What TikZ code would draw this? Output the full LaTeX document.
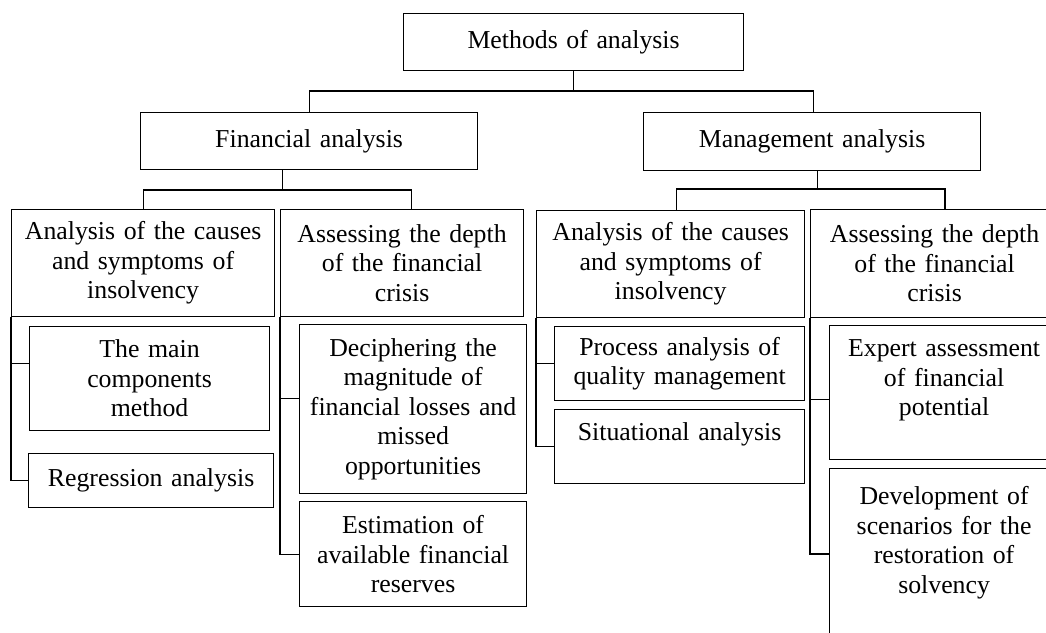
\documentclass[tikz,border=0pt]{standalone}
\usepackage{fontspec}
\setmainfont{Liberation Serif}
\begin{document}
\begin{tikzpicture}[x=1pt,y=-1pt,
  every node/.style={font=\fontsize{25.8}{29.5}\selectfont},
  box/.style={draw, line width=1.2pt, inner sep=0pt, anchor=north west, align=center},
  link/.style={line width=1.2pt}]
\useasboundingbox (0,0) rectangle (1046,632);
\clip (0,0) rectangle (1046,632);
% level 1
\node[box, minimum width=340, minimum height=57, text width=334] (top) at (403,13) {Methods of analysis};
% level 2
\node[box, minimum width=337, minimum height=57, text width=331] (fin) at (140,112) {Financial analysis};
\node[box, minimum width=337, minimum height=58, text width=331] (mgmt) at (643,112) {Management analysis};
% level 3
\node[box, minimum width=263, minimum height=107, text width=259] (a1) at (11,209) {Analysis of the causes\\ and symptoms of\\ insolvency};
\node[box, minimum width=243, minimum height=107, text width=239] (a2) at (280,209) {Assessing the depth\\ of the financial\\ crisis};
\node[box, minimum width=268, minimum height=107, text width=264] (a3) at (536,210) {Analysis of the causes\\ and symptoms of\\ insolvency};
\node[box, minimum width=248, minimum height=108, text width=244] (a4) at (810,209) {Assessing the depth\\ of the financial\\ crisis};
% level 4
\node[box, minimum width=240, minimum height=104, text width=236] (b1) at (29,326) {The main\\ components\\ method};
\node[box, minimum width=245, minimum height=54, text width=241] (b2) at (28,453) {Regression analysis};
\node[box, minimum width=227, minimum height=169, text width=223] (c1) at (299,324) {Deciphering the\\ magnitude of\\ financial losses and\\ missed\\ opportunities};
\node[box, minimum width=227, minimum height=105, text width=223] (c2) at (299,501) {Estimation of\\ available financial\\ reserves};
\node[box, minimum width=250, minimum height=74, text width=246] (d1) at (554,326) {Process analysis of\\ quality management};
\node[box, minimum width=250, minimum height=74, text width=246] (d2) at (554,409) {Situational analysis\\ \mbox{}};
\node[box, minimum width=229, minimum height=134, text width=225] (e1) at (829,325) {Expert assessment\\ of financial\\ potential\\ \mbox{}};
\node[box, minimum width=229, minimum height=172, text width=225] (e2) at (829,468) {Development of\\ scenarios for the\\ restoration of\\ solvency\\ \mbox{}};
% connectors level 1-2
\draw[link] (top.south) -- ++(0,20);
\draw[link] (fin.north) -- ++(0,-21) -| ([xshift=1.5pt]mgmt.north);
% connectors level 2-3
\draw[link] ([xshift=-26.5pt]fin.south) -- ++(0,20);
\draw[link] (a1.north) -- ++(0,-19) -| ([xshift=9.5pt]a2.north);
\draw[link] ([xshift=5.5pt]mgmt.south) -- ++(0,19);
\draw[link] ([xshift=6pt]a3.north) -- ++(0,-21) -| ([xshift=135pt]a4.north west);
% connectors level 3-4
\draw[link] (a1.south west) |- ([yshift=15pt]b1.west);
\draw[link] (a1.south west) |- (b2.west);
\draw[link] (a2.south west) |- ([yshift=10.5pt]c1.west);
\draw[link] (a2.south west) |- (c2.west);
\draw[link] (a3.south west) |- (d1.west);
\draw[link] (a3.south west) |- (d2.west);
\draw[link] (a4.south west) |- ([yshift=-7pt]e1.west);
\draw[link] (a4.south west) |- ([yshift=-86pt]e2.north west);
\end{tikzpicture}
\end{document}
